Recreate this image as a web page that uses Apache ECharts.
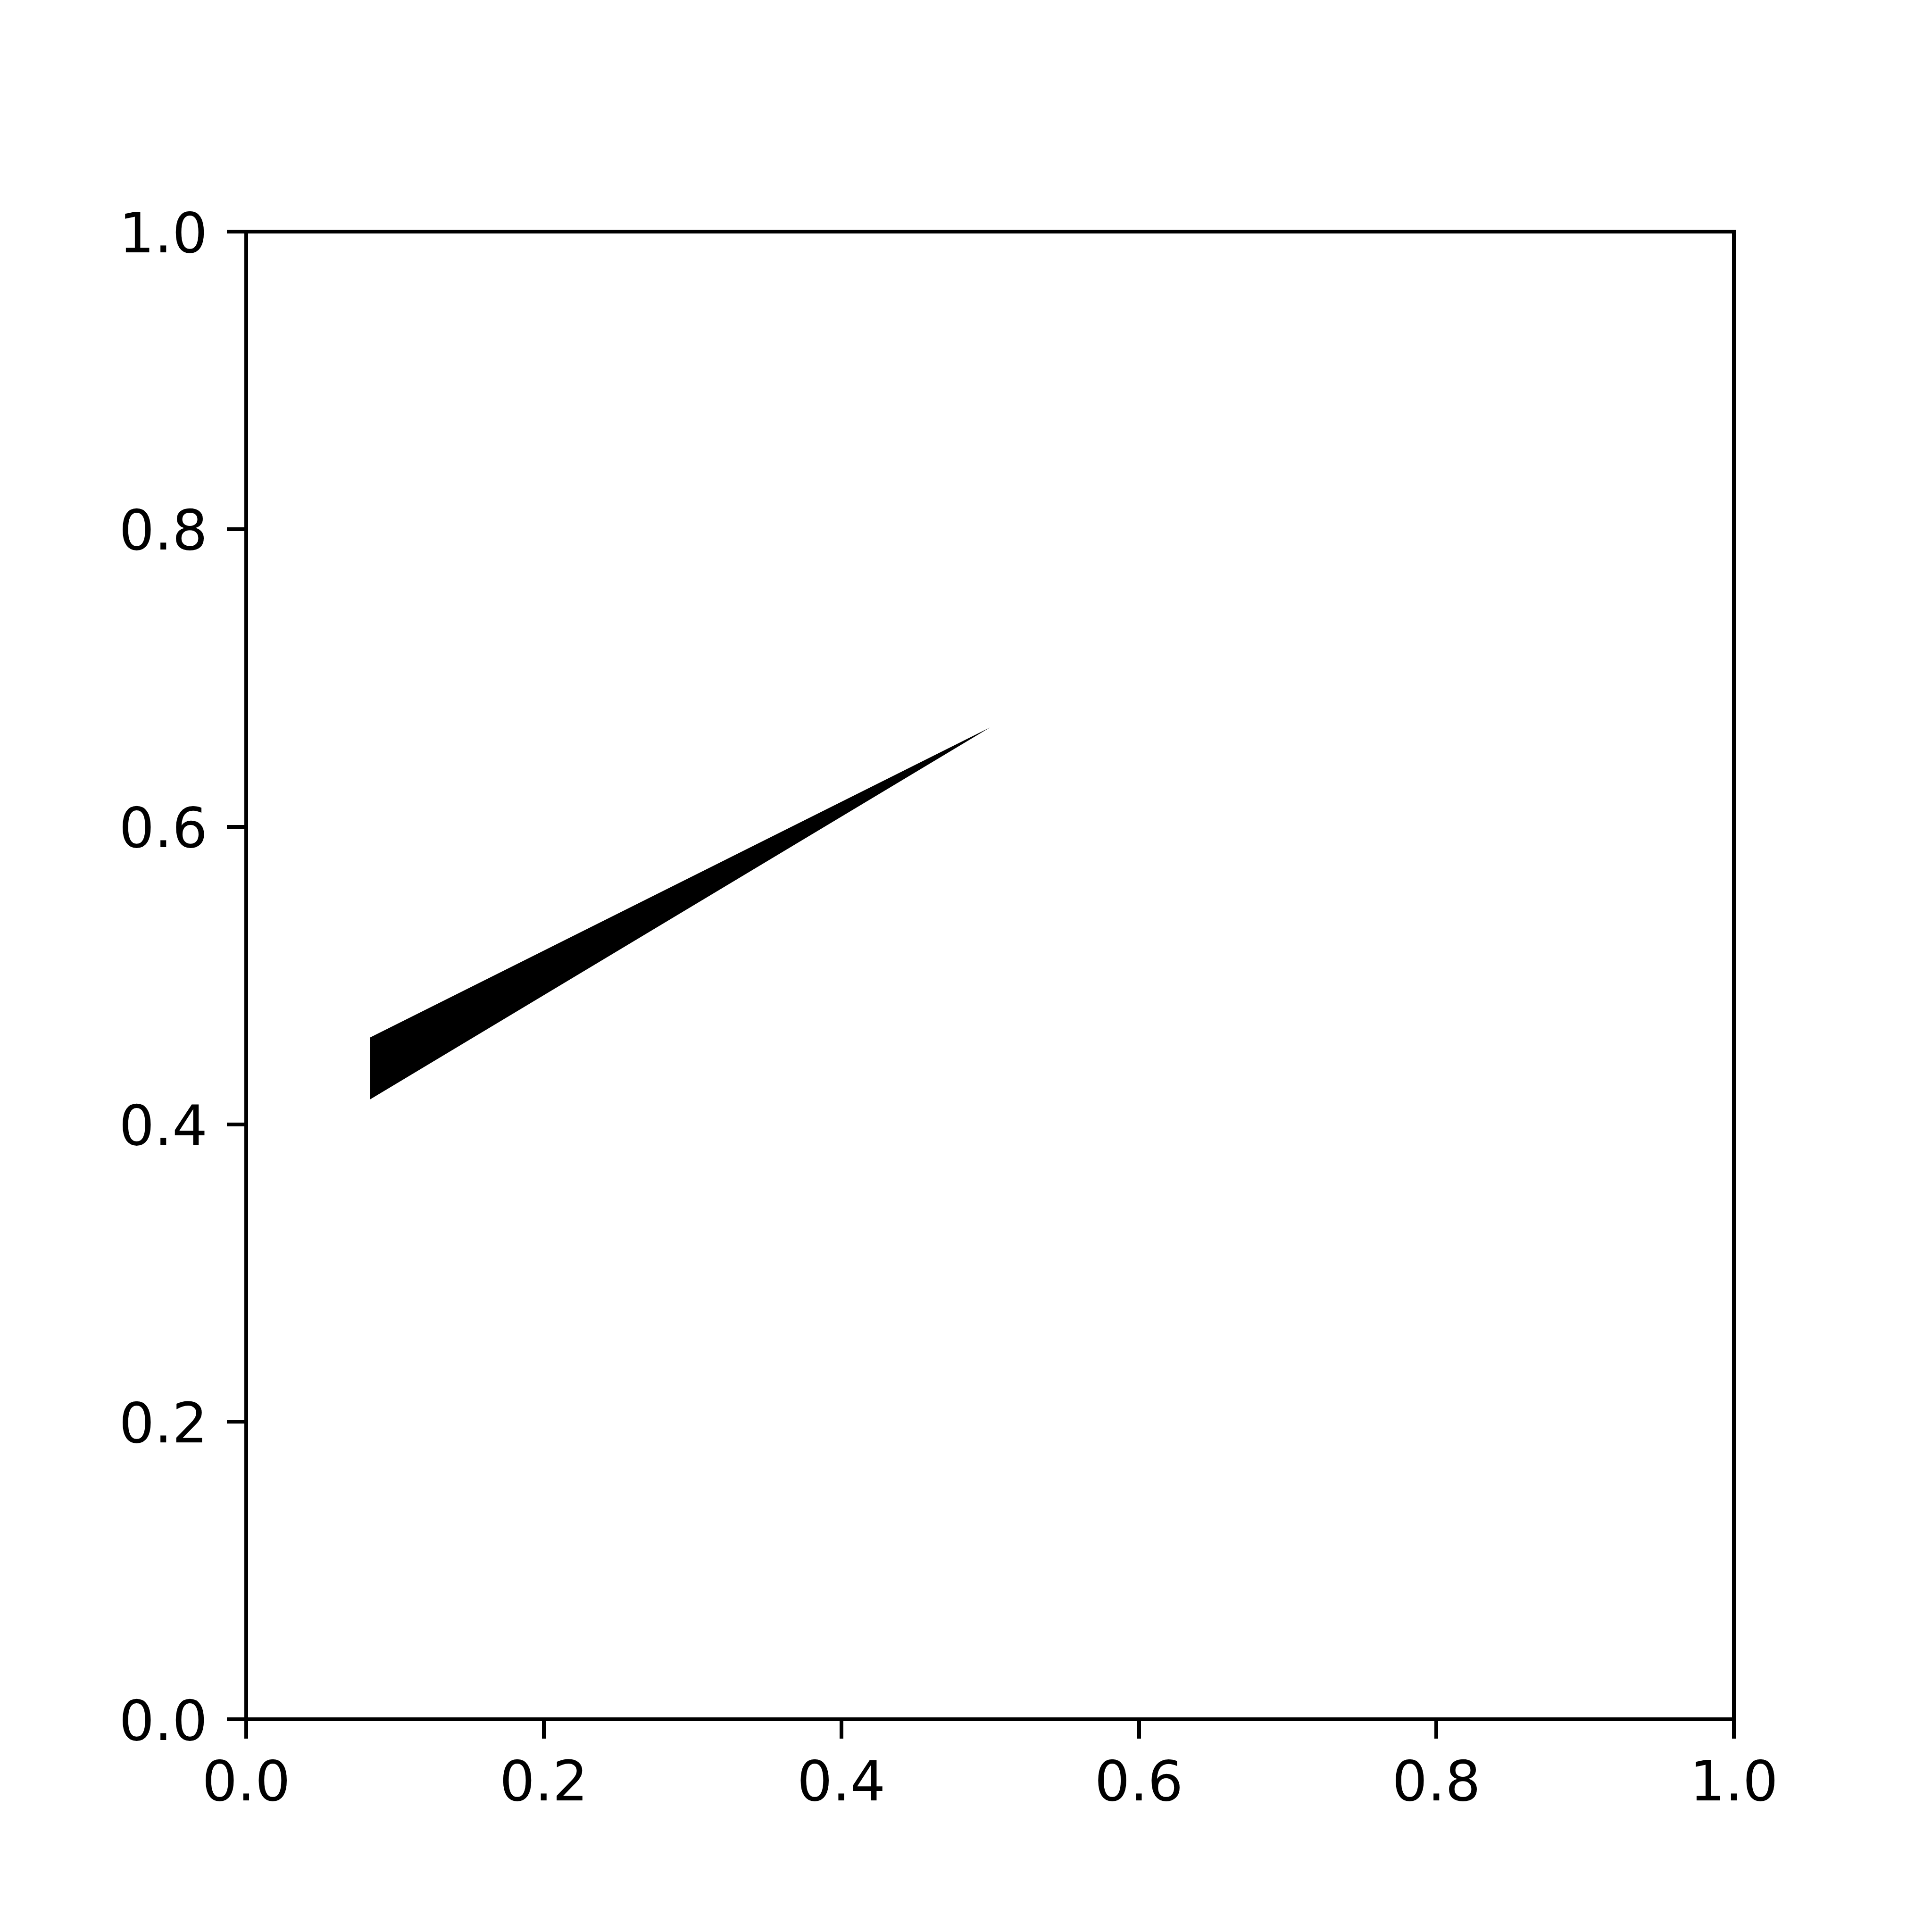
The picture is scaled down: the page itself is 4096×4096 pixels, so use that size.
<!DOCTYPE html>
<html>
<head>
<meta charset="utf-8">
<script src="https://cdn.jsdelivr.net/npm/echarts@6/dist/echarts.min.js"></script>
<style>html,body{margin:0;padding:0;background:#fff}#c{width:4096px;height:4096px}</style>
</head>
<body>
<div id="c"></div>
<script>
// Polygon vertices (data coordinates)
const polyX = [0.0833, 0.0833, 0.5];
const polyY = [0.4583, 0.4167, 0.6667];
const xTicks = [0.0, 0.2, 0.4, 0.6, 0.8, 1.0];
const yTicks = [0.0, 0.2, 0.4, 0.6, 0.8, 1.0];

const chart = echarts.init(document.getElementById('c'), null, {renderer: 'canvas'});
const font = 'DejaVu Sans';
const labelStyle = {color: '#000', fontFamily: font, fontSize: 118};
const axisCommon = {
  type: 'value', min: 0, max: 1, interval: 0.2,
  splitLine: {show: false},
  axisLine: {show: true, onZero: false, lineStyle: {color: '#000', width: 8}},
  axisTick: {show: true, inside: false, length: 41, lineStyle: {color: '#000', width: 8}}
};
const pts = polyX.map((x, i) => [x, polyY[i]]);
chart.setOption({
  animation: false,
  backgroundColor: '#fff',
  grid: {left: 522, top: 491, width: 3154, height: 3154, show: true, borderColor: '#000', borderWidth: 8, backgroundColor: 'transparent'},
  xAxis: Object.assign({}, axisCommon, {position: 'bottom',
    axisLabel: Object.assign({}, labelStyle, {margin: 82, formatter: v => v.toFixed(1)})}),
  yAxis: Object.assign({}, axisCommon, {position: 'left',
    axisLabel: Object.assign({}, labelStyle, {margin: 82,
      formatter: v => '{a|' + v.toFixed(1) + '}',
      rich: {a: Object.assign({}, labelStyle, {padding: [26, 0, 0, 0]})}})}),
  series: [{
    type: 'custom',
    data: pts,
    clip: false,
    renderItem: function (params, api) {
      if (params.dataIndex !== 0) return null;
      const points = pts.map(p => api.coord(p));
      return {type: 'polygon', shape: {points: points}, style: {fill: '#000', stroke: null}};
    }
  }]
});
</script>
</body>
</html>
